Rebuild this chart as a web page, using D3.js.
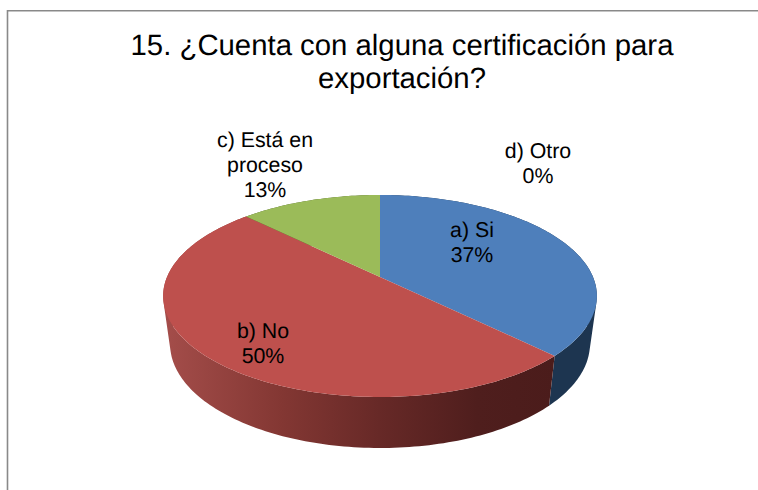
<!DOCTYPE html>
<html>
<head>
<meta charset="utf-8">
<script src="https://d3js.org/d3.v7.min.js"></script>
<style>
html, body { margin: 0; padding: 0; background: #fff; }
svg { display: block; }
text { font-family: "Liberation Sans", Arial, sans-serif; fill: #000; text-anchor: middle; text-rendering: geometricPrecision; }
</style>
</head>
<body>
<svg id="chart" width="758" height="490"></svg>
<script>
// data
var categories = ["a) Si", "b) No", "c) Está en proceso", "d) Otro"];
var values = [37.4, 50, 12.6, 0];
var titleLines = ["15. ¿Cuenta con alguna certificación para", "exportación?"];

// label wrapping and placement, these were placed by hand in the original
var labelLines = [["a) Si"], ["b) No"], ["c) Está en", "proceso"], ["d) Otro"]];
var labelX = [472, 263, 265, 538];
var labelY = [237, 338, 147, 158];

var topColors = ["#4e7fbb", "#be504d", "#9bbb59", "#8064a2"];
var sideColors = ["#1d3550", "url(#redSide)", "#4a5c25", "#3f3151"];

var svg = d3.select("#chart");

// frame, only left and top edges show in the picture
svg.append("path")
    .attr("d", d3.line()([[7.5, 490], [7.5, 10.8], [758, 10.8]]))
    .attr("fill", "none")
    .attr("stroke", "#898989")
    .attr("stroke-width", 1.6);

var grad = svg.append("defs").append("linearGradient")
    .attr("id", "redSide")
    .attr("gradientUnits", "userSpaceOnUse")
    .attr("x1", 165).attr("x2", 555)
    .attr("y1", 0).attr("y2", 0);
[[0, "#a44d4a"], [0.3, "#833733"], [0.55, "#672927"], [0.8, "#4f1e1d"], [1, "#4b1c1b"]].forEach(function(s) {
    grad.append("stop").attr("offset", s[0]).attr("stop-color", s[1]);
});

// perspective disc: ellipse centred on (cx, cy), but the pie apex sits higher
var cx = 380, cy = 296;
var k = 0.188, a = 213, b = 101, c = -19;

function project(angle) {
    var u = Math.sin(angle), v = -Math.cos(angle);
    var w = 1 - k * v;
    return [a * u / w, (b * v + c) / w];
}
function topPoint(angle) {
    var p = project(angle);
    return [cx + p[0], cy + p[1]];
}
function bottomPoint(angle) {
    var p = project(angle);
    return [cx + p[0] * 0.968, 344 + p[1] * 1.03];
}
function samples(d) {
    var n = Math.max(2, Math.ceil((d.endAngle - d.startAngle) / 0.02));
    return d3.range(n + 1).map(function(i) {
        return d.startAngle + (d.endAngle - d.startAngle) * i / n;
    });
}

var pie = d3.pie().sort(null).value(function(d) { return d; });
var slices = pie(values);
var line = d3.line();

// side wall as a strip of quads so the silhouette stays tangent
svg.append("g").selectAll("path")
    .data(slices)
    .enter().append("path")
    .attr("fill", function(d, i) { return sideColors[i]; })
    .attr("d", function(d) {
        if (d.endAngle === d.startAngle) return null;
        var t = samples(d), out = "";
        for (var i = 0; i < t.length - 1; i++) {
            // keep winding the same way for the whole strip
            var quad = [topPoint(t[i]), topPoint(t[i + 1]), bottomPoint(t[i + 1]), bottomPoint(t[i])];
            if (d3.polygonArea(quad) < 0) quad.reverse();
            out += line(quad) + "Z";
        }
        return out;
    });

// top face
svg.append("g").selectAll("path")
    .data(slices)
    .enter().append("path")
    .attr("fill", function(d, i) { return topColors[i]; })
    .attr("d", function(d) {
        if (d.endAngle === d.startAngle) return null;
        return line([[cx, cy + c]].concat(samples(d).map(topPoint))) + "Z";
    });

svg.append("g").selectAll("text")
    .data(titleLines)
    .enter().append("text")
    .attr("x", 402)
    .attr("y", function(d, i) { return 55 + i * 33; })
    .attr("font-size", 29.33)
    .text(function(d) { return d; });

// data labels
var labels = svg.append("g").selectAll("text")
    .data(slices)
    .enter().append("text")
    .attr("font-size", 21.33)
    .attr("y", function(d, i) { return labelY[i]; });

labels.each(function(d, i) {
    var lines = labelLines[i].concat([Math.round(d.data) + "%"]);
    d3.select(this).selectAll("tspan")
        .data(lines)
        .enter().append("tspan")
        .attr("x", labelX[i])
        .attr("dy", function(t, j) { return j ? 25 : 0; })
        .text(function(t) { return t; });
});
</script>
</body>
</html>
